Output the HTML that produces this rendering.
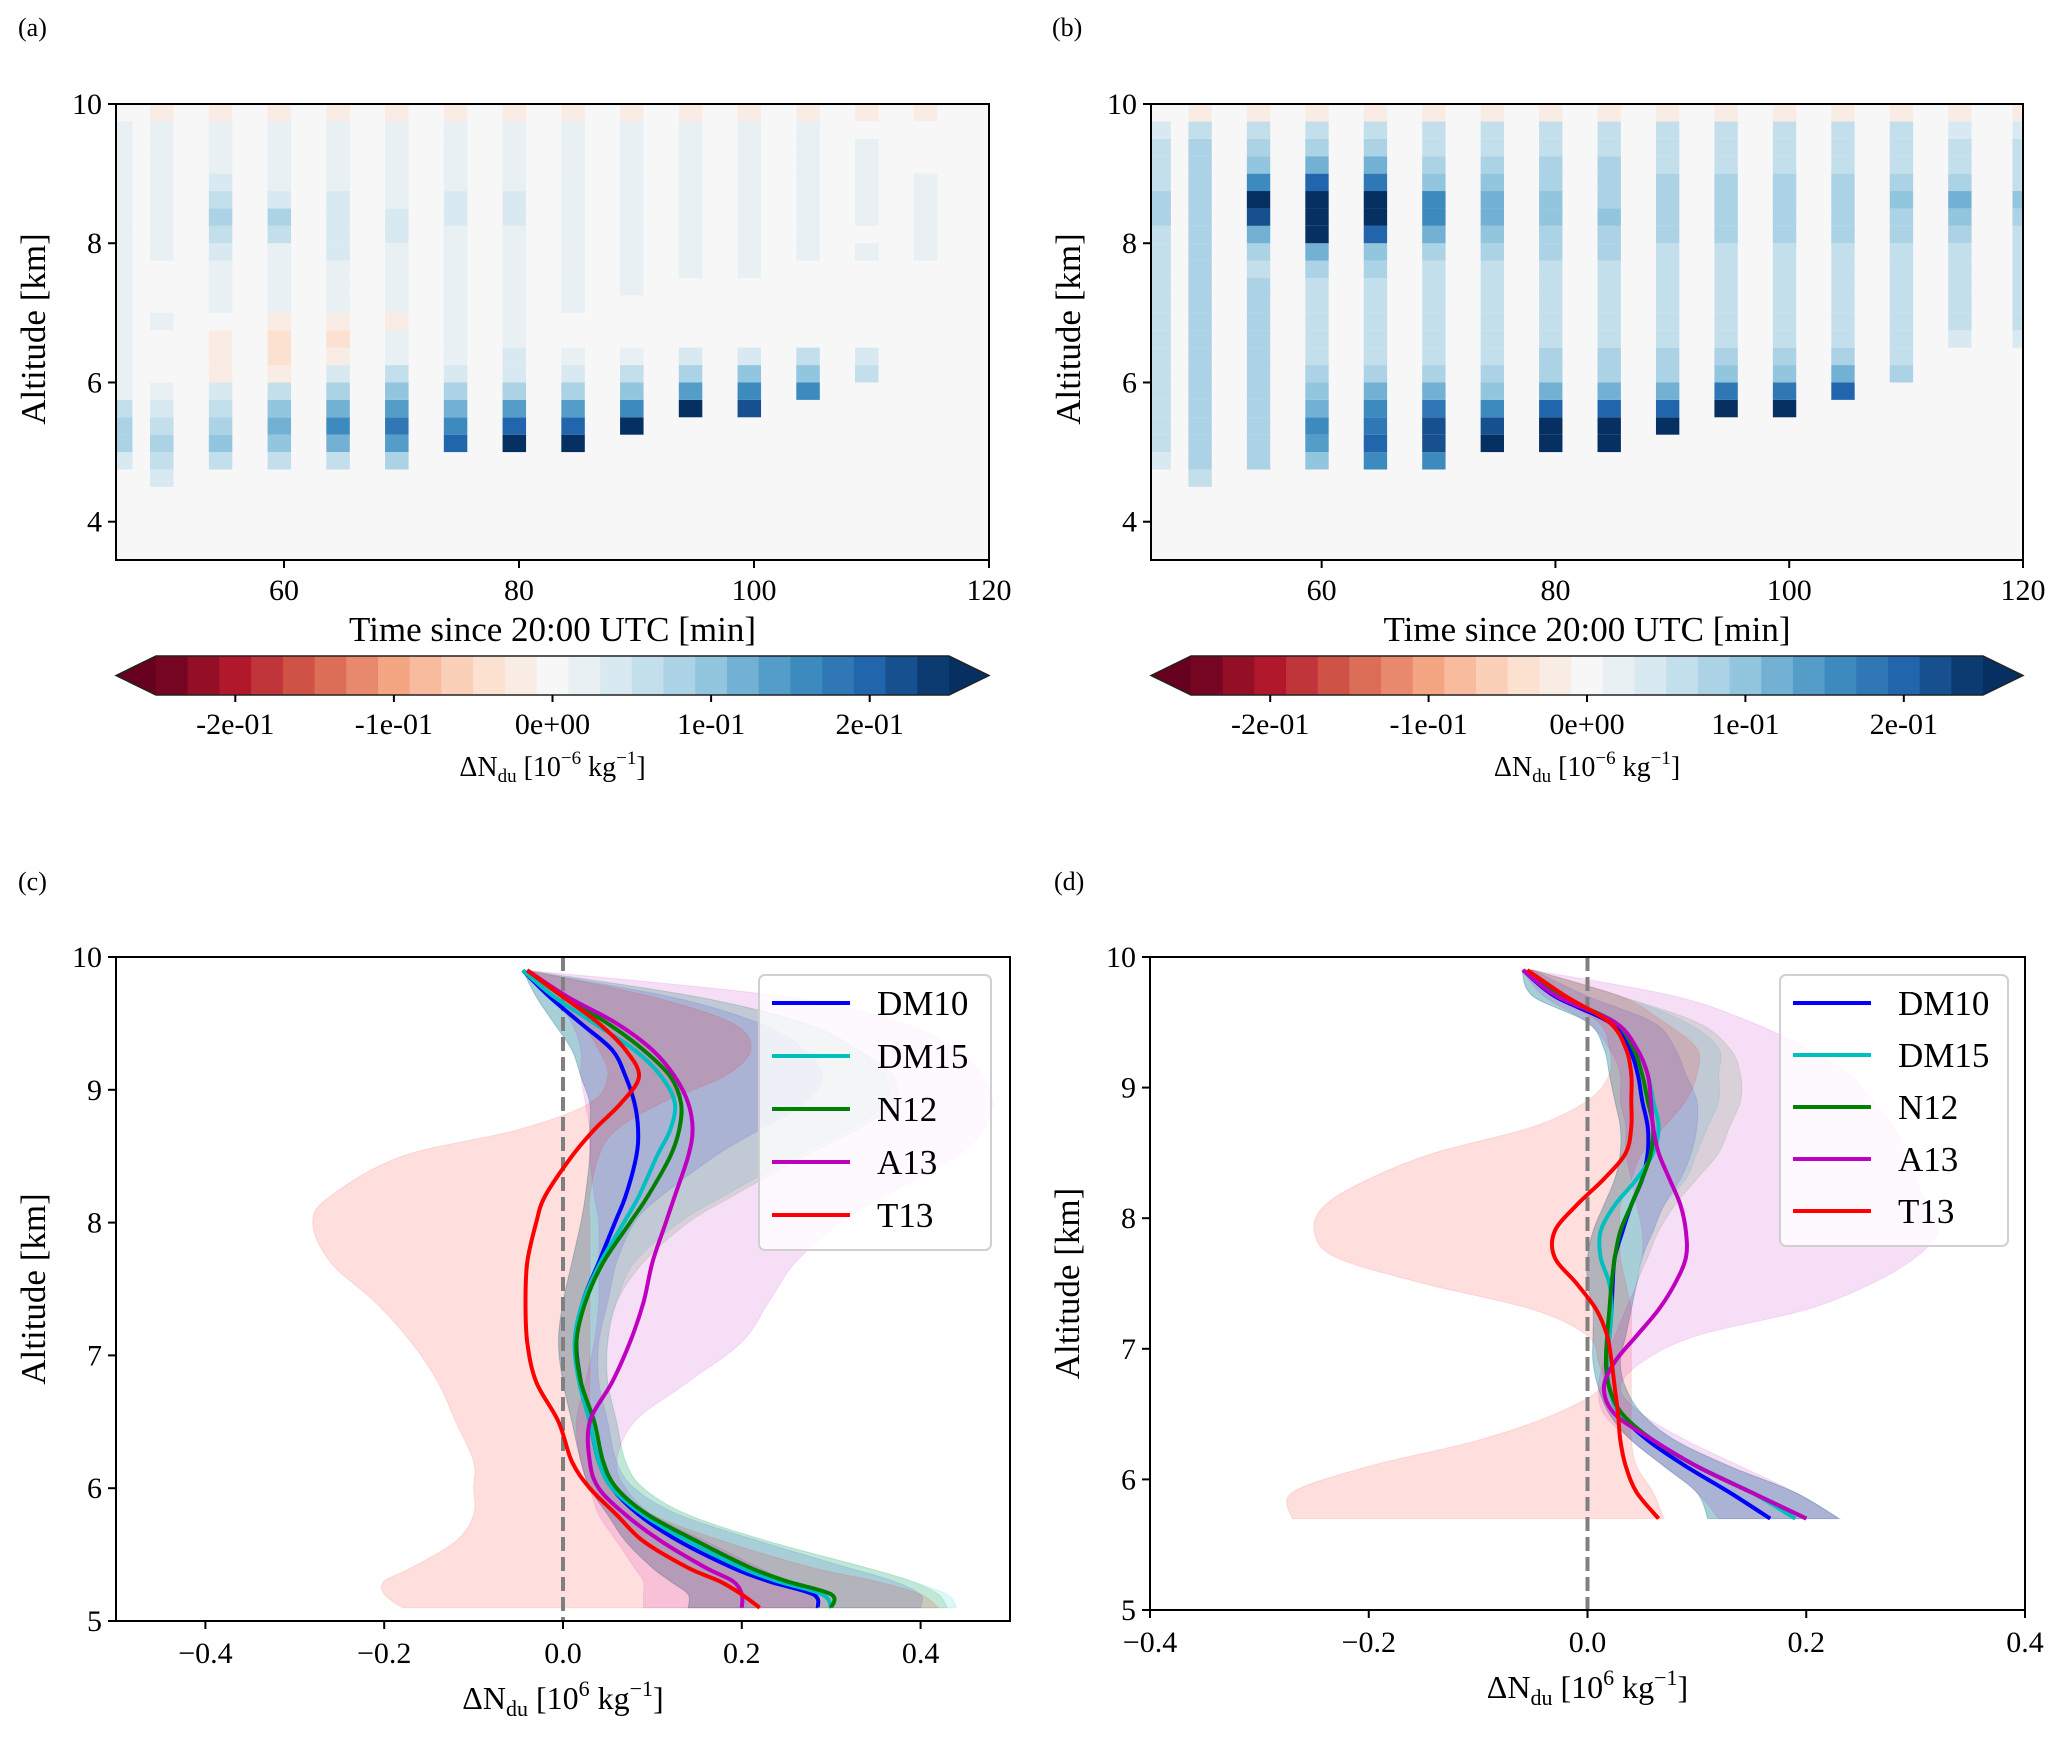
<!DOCTYPE html>
<html><head><meta charset="utf-8"><style>
html,body{margin:0;padding:0;background:#fff;}
svg text{font-family:"Liberation Serif","DejaVu Serif",serif;fill:#000;}
</style></head><body>
<svg id="fig" xmlns="http://www.w3.org/2000/svg" width="2067" height="1739" viewBox="0 0 2067 1739"></svg>
<script>
// ---------- heatmap data ----------
const hmTimes = [46.5,50,55,60,65,70,75,80,85,90,95,100,105,110,115,120.5];
const hmAltBins = [4.5,4.75,5.0,5.25,5.5,5.75,6.0,6.25,6.5,6.75,7.0,7.25,7.5,7.75,8.0,8.25,8.5,8.75,9.0,9.25,9.5,9.75];
const hmA = [
[0,0.03,0.07,0.08,0.05,0.02,0.01,0.01,0.01,0.01,0.01,0.01,0.02,0.02,0.02,0.02,0.02,0.02,0.02,0.02,0.02,0],
[0.03,0.06,0.08,0.06,0.03,0.02,0,0,0,0.01,0,0,0,0.02,0.02,0.02,0.02,0.02,0.02,0.02,0.02,-0.02],
[0,0.05,0.09,0.08,0.06,0.03,-0.02,-0.03,-0.02,0,0.02,0.02,0.02,0.03,0.06,0.08,0.05,0.03,0.02,0.02,0.02,-0.03],
[0,0.05,0.1,0.12,0.1,0.05,-0.03,-0.05,-0.04,-0.02,0.02,0.02,0.02,0.02,0.05,0.07,0.03,0.02,0.02,0.02,0.02,-0.03],
[0,0.05,0.12,0.15,0.12,0.07,0.03,-0.03,-0.04,-0.03,0.02,0.02,0.02,0.03,0.04,0.04,0.03,0.02,0.02,0.02,0.02,-0.03],
[0,0.08,0.14,0.17,0.14,0.1,0.05,0.02,0.02,-0.02,0.02,0.02,0.02,0.02,0.03,0.03,0.02,0.02,0.02,0.02,0.02,-0.03],
[0,0,0.2,0.15,0.12,0.08,0.04,0.02,0.02,0.02,0.02,0.02,0.02,0.02,0.02,0.03,0.03,0.02,0.02,0.02,0.02,-0.03],
[0,0,0.3,0.2,0.14,0.08,0.04,0.03,0.02,0.02,0.02,0.02,0.02,0.02,0.02,0.03,0.03,0.02,0.02,0.02,0.02,-0.03],
[0,0,0.25,0.2,0.13,0.08,0.04,0.02,0,0,0.02,0.02,0.02,0.02,0.02,0.02,0.02,0.02,0.02,0.02,0.02,-0.03],
[0,0,0,0.3,0.16,0.1,0.05,0.02,0,0,0,0.02,0.02,0.02,0.02,0.02,0.02,0.02,0.02,0.02,0.02,-0.03],
[0,0,0,0,0.25,0.14,0.08,0.03,0,0,0,0,0.02,0.02,0.02,0.02,0.02,0.02,0.02,0.02,0.02,-0.03],
[0,0,0,0,0.22,0.15,0.09,0.04,0,0,0,0,0.02,0.02,0.02,0.02,0.02,0.02,0.02,0.02,0.02,-0.03],
[0,0,0,0,0,0.16,0.1,0.05,0,0,0,0,0,0.02,0.02,0.02,0.02,0.02,0.02,0.02,0.02,-0.03],
[0,0,0,0,0,0,0.06,0.03,0,0,0,0,0,0.01,0,0.01,0.01,0.01,0.01,0.01,0,-0.03],
[0,0,0,0,0,0,0,0,0,0,0,0,0,0.01,0.01,0.01,0.01,0.02,0,0,0,-0.03],
[0,0,0,0,0,0,0,0,0,0,0,0,0,0,0,0,0,0,0,0,0,0]];
const hmB = [
[0,0.04,0.06,0.06,0.06,0.06,0.06,0.06,0.06,0.06,0.06,0.06,0.06,0.06,0.06,0.08,0.08,0.06,0.06,0.06,0.03,0],
[0.06,0.07,0.07,0.07,0.07,0.07,0.07,0.07,0.07,0.07,0.07,0.07,0.07,0.07,0.07,0.07,0.07,0.07,0.07,0.07,0.06,-0.02],
[0,0.07,0.08,0.08,0.07,0.07,0.07,0.07,0.07,0.07,0.07,0.07,0.06,0.08,0.12,0.22,0.25,0.15,0.1,0.07,0.06,-0.03],
[0,0.1,0.14,0.16,0.12,0.1,0.07,0.06,0.06,0.06,0.06,0.06,0.08,0.12,0.25,0.3,0.3,0.2,0.12,0.08,0.06,-0.03],
[0,0.15,0.2,0.18,0.16,0.12,0.08,0.06,0.06,0.06,0.06,0.06,0.07,0.1,0.2,0.26,0.28,0.18,0.12,0.08,0.06,-0.03],
[0,0.16,0.22,0.22,0.18,0.12,0.08,0.06,0.06,0.06,0.06,0.06,0.06,0.08,0.12,0.16,0.15,0.1,0.08,0.06,0.06,-0.03],
[0,0,0.25,0.22,0.15,0.1,0.07,0.06,0.06,0.06,0.06,0.06,0.06,0.07,0.1,0.12,0.12,0.1,0.07,0.06,0.06,-0.03],
[0,0,0.3,0.3,0.2,0.12,0.08,0.07,0.06,0.06,0.06,0.06,0.06,0.07,0.08,0.1,0.1,0.08,0.07,0.06,0.06,-0.03],
[0,0,0.3,0.3,0.2,0.12,0.08,0.07,0.06,0.06,0.06,0.06,0.06,0.07,0.08,0.09,0.08,0.08,0.07,0.06,0.06,-0.03],
[0,0,0,0.3,0.2,0.12,0.08,0.07,0.06,0.06,0.06,0.06,0.06,0.06,0.07,0.08,0.08,0.07,0.06,0.06,0.06,-0.03],
[0,0,0,0,0.3,0.18,0.1,0.07,0.06,0.06,0.06,0.06,0.06,0.06,0.07,0.08,0.08,0.07,0.06,0.06,0.06,-0.03],
[0,0,0,0,0.28,0.18,0.1,0.07,0.06,0.06,0.06,0.06,0.06,0.06,0.07,0.08,0.08,0.07,0.06,0.06,0.06,-0.03],
[0,0,0,0,0,0.2,0.12,0.08,0.06,0.06,0.06,0.06,0.06,0.06,0.07,0.08,0.08,0.07,0.06,0.06,0.06,-0.03],
[0,0,0,0,0,0,0.08,0.06,0.06,0.06,0.06,0.06,0.06,0.06,0.07,0.08,0.1,0.08,0.06,0.06,0.06,-0.03],
[0,0,0,0,0,0,0,0,0.04,0.05,0.06,0.06,0.06,0.06,0.07,0.1,0.12,0.08,0.06,0.05,0.04,-0.03],
[0,0,0,0,0,0,0,0,0.04,0.05,0.05,0.05,0.05,0.05,0.06,0.08,0.1,0.06,0.05,0.05,0.04,-0.02]];
const hmXTicks = [60,80,100,120];
const hmYTicks = [4,6,8,10];
const cbTicks = [-0.2,-0.1,0,0.1,0.2];
const cbTickLabels = ["-2e-01","-1e-01","0e+00","1e-01","2e-01"];

// ---------- profile data ----------
const seriesNames = ["DM10","DM15","N12","A13","T13"];
const seriesColors = ["#0000ff","#00bfbf","#008000","#bf00bf","#ff0000"];
const altC = [9.9,9.7,9.5,9.3,9.1,8.9,8.7,8.5,8.2,8.0,7.7,7.4,7.1,6.8,6.5,6.2,6.0,5.8,5.6,5.4,5.3,5.2,5.1];
const cDM10 = [-0.045,-0.015,0.02,0.055,0.07,0.08,0.084,0.082,0.07,0.058,0.04,0.022,0.015,0.02,0.03,0.04,0.055,0.085,0.13,0.19,0.23,0.28,0.285];
const cDM15 = [-0.045,-0.01,0.035,0.08,0.11,0.125,0.12,0.105,0.085,0.068,0.042,0.022,0.013,0.018,0.03,0.04,0.055,0.09,0.14,0.2,0.24,0.29,0.3];
const cN12 = [-0.04,0.0,0.05,0.09,0.12,0.132,0.13,0.12,0.095,0.075,0.045,0.025,0.015,0.02,0.035,0.045,0.06,0.095,0.15,0.21,0.25,0.3,0.3];
const cA13 = [-0.04,0.005,0.06,0.1,0.125,0.14,0.145,0.14,0.125,0.115,0.1,0.09,0.075,0.055,0.03,0.03,0.04,0.07,0.11,0.16,0.19,0.2,0.2];
const cT13 = [-0.04,0.0,0.04,0.07,0.085,0.065,0.035,0.01,-0.02,-0.03,-0.04,-0.042,-0.04,-0.03,-0.005,0.01,0.03,0.06,0.09,0.14,0.175,0.2,0.22];
const cLoDM = [-0.045,-0.03,-0.01,0.01,0.02,0.03,0.03,0.03,0.025,0.02,0.01,0.0,-0.005,0.0,0.01,0.02,0.03,0.05,0.07,0.1,0.12,0.14,0.14];
const cHiDM10 = [-0.045,0.12,0.22,0.27,0.29,0.27,0.22,0.17,0.11,0.08,0.06,0.05,0.04,0.04,0.05,0.06,0.08,0.13,0.22,0.32,0.37,0.4,0.4];
const cHiDM15 = [-0.045,0.15,0.27,0.33,0.36,0.36,0.32,0.26,0.18,0.13,0.08,0.06,0.05,0.05,0.06,0.07,0.09,0.14,0.23,0.34,0.39,0.43,0.44];
const cHiN12 = [-0.04,0.15,0.27,0.33,0.37,0.37,0.33,0.27,0.19,0.14,0.09,0.06,0.05,0.05,0.06,0.07,0.09,0.14,0.23,0.34,0.39,0.42,0.43];
const cLoA13 = [-0.04,-0.01,0.01,0.02,0.02,0.025,0.03,0.03,0.035,0.04,0.04,0.04,0.035,0.025,0.015,0.02,0.03,0.04,0.06,0.08,0.09,0.09,0.09];
const cHiA13 = [-0.04,0.25,0.38,0.44,0.47,0.48,0.47,0.44,0.36,0.31,0.26,0.23,0.2,0.14,0.08,0.06,0.07,0.1,0.16,0.22,0.25,0.28,0.28];
const cLoT13 = [-0.04,-0.01,0.02,0.04,0.05,0.03,-0.05,-0.18,-0.26,-0.28,-0.26,-0.21,-0.17,-0.14,-0.12,-0.1,-0.1,-0.1,-0.12,-0.17,-0.2,-0.2,-0.18];
const cHiT13 = [-0.04,0.1,0.19,0.21,0.18,0.11,0.06,0.04,0.03,0.03,0.03,0.03,0.03,0.03,0.03,0.04,0.06,0.1,0.18,0.28,0.35,0.4,0.42];

const altD = [9.9,9.7,9.5,9.3,9.1,8.9,8.7,8.5,8.3,8.1,7.9,7.7,7.5,7.3,7.1,6.9,6.7,6.5,6.3,6.1,5.9,5.7];
const dDM10 = [-0.059,-0.03,0.02,0.038,0.046,0.05,0.055,0.055,0.05,0.04,0.032,0.025,0.023,0.022,0.02,0.017,0.02,0.03,0.055,0.09,0.13,0.167];
const dDM15 = [-0.059,-0.025,0.025,0.045,0.055,0.06,0.065,0.06,0.045,0.025,0.012,0.012,0.02,0.022,0.02,0.018,0.02,0.03,0.06,0.1,0.15,0.19];
const dN12 = [-0.059,-0.025,0.025,0.042,0.05,0.055,0.06,0.058,0.05,0.04,0.03,0.025,0.022,0.02,0.018,0.017,0.02,0.032,0.06,0.1,0.15,0.2];
const dA13 = [-0.059,-0.028,0.025,0.045,0.055,0.058,0.06,0.065,0.075,0.085,0.09,0.09,0.08,0.065,0.045,0.025,0.015,0.025,0.06,0.1,0.15,0.2];
const dT13 = [-0.055,-0.02,0.02,0.035,0.04,0.04,0.04,0.035,0.015,-0.01,-0.03,-0.03,-0.01,0.008,0.018,0.022,0.025,0.028,0.03,0.035,0.045,0.065];
const dLoDM = [-0.06,-0.05,0.0,0.015,0.02,0.025,0.03,0.03,0.025,0.015,0.005,0.0,0.0,0.005,0.005,0.005,0.01,0.02,0.04,0.07,0.1,0.11];
const dHiDM10 = [-0.05,0.0,0.06,0.08,0.09,0.1,0.1,0.095,0.085,0.07,0.06,0.05,0.045,0.04,0.035,0.03,0.035,0.05,0.08,0.13,0.19,0.23];
const dHiDM15 = [-0.05,0.03,0.09,0.12,0.12,0.12,0.11,0.1,0.09,0.07,0.06,0.05,0.045,0.04,0.035,0.03,0.035,0.05,0.08,0.13,0.19,0.23];
const dHiN12 = [-0.05,0.03,0.1,0.13,0.14,0.14,0.13,0.12,0.1,0.08,0.065,0.055,0.045,0.04,0.035,0.03,0.035,0.05,0.08,0.13,0.19,0.23];
const dLoA13 = [-0.06,-0.04,0.0,0.02,0.03,0.03,0.035,0.035,0.04,0.045,0.05,0.05,0.045,0.035,0.025,0.015,0.01,0.015,0.04,0.07,0.1,0.12];
const dHiA13 = [-0.05,0.08,0.15,0.2,0.24,0.26,0.28,0.29,0.3,0.31,0.32,0.3,0.26,0.2,0.1,0.05,0.03,0.05,0.09,0.14,0.19,0.23];
const dLoT13 = [-0.055,-0.03,0.01,0.02,0.02,0.0,-0.05,-0.14,-0.2,-0.24,-0.25,-0.23,-0.15,-0.05,0.0,0.01,0.012,-0.03,-0.1,-0.2,-0.27,-0.27];
const dHiT13 = [-0.05,0.03,0.07,0.1,0.1,0.09,0.07,0.05,0.04,0.03,0.03,0.03,0.035,0.04,0.04,0.04,0.04,0.04,0.04,0.045,0.06,0.07];
const cXTicks = [-0.4,-0.2,0.0,0.2,0.4];
const dXTicks = [-0.4,-0.2,0.0,0.2,0.4];
const profYTicks = [5,6,7,8,9,10];

// ---------- helpers ----------
const NS="http://www.w3.org/2000/svg";
const svg=document.getElementById('fig');
function mk(tag,attrs,parent){const e=document.createElementNS(NS,tag);for(const k in attrs)e.setAttribute(k,attrs[k]);(parent||svg).appendChild(e);return e;}
function txt(s,x,y,size,anchor,parent){const t=mk('text',{x:x,y:y,'font-size':size,'text-anchor':anchor||'middle'},parent);t.textContent=s;return t;}
const anchors=["#67001f","#b2182b","#d6604d","#f4a582","#fddbc7","#f7f7f7","#d1e5f0","#92c5de","#4393c3","#2166ac","#053061"];
function hex(c){return [parseInt(c.substr(1,2),16),parseInt(c.substr(3,2),16),parseInt(c.substr(5,2),16)];}
function cmap(f){f=Math.max(0,Math.min(1,f));const p=f*10,i=Math.min(9,Math.floor(p)),r=p-i;const a=hex(anchors[i]),b=hex(anchors[i+1]);return 'rgb('+a.map((v,k)=>Math.round(v+(b[k]-v)*r)).join(',')+')';}
function binColor(v){let b=Math.floor((v+0.25)/0.02+1e-9);if(b<0)return '#67001f';if(b>24)return '#053061';return cmap((b+0.5)/25);}
function fmt(v){return (v<0?'\u2212':'')+Math.abs(v).toFixed(1);}

function heatPanel(name,data,L,R,T,B,x0,x1,y0,y1){
  const g=mk('g',{});
  
  
  const sx=v=>L+(v-x0)/(x1-x0)*(R-L), sy=v=>B-(v-y0)/(y1-y0)*(B-T);
  mk('rect',{x:L,y:T,width:R-L,height:B-T,fill:binColor(0)},g);
  const clip='clip'+name; const cp=mk('clipPath',{id:clip},g); mk('rect',{x:L,y:T,width:R-L,height:B-T},cp);
  const cg=mk('g',{'clip-path':'url(#'+clip+')'},g);
  hmTimes.forEach((t,i)=>{
    hmAltBins.forEach((a,j)=>{
      const v=data[i][j]; if(Math.abs(v)<0.01) return;
      const xa=sx(t-1.4), xb=sx(t+0.6);
      const r=mk('rect',{x:xa,y:sy(a+0.25),width:xb-xa,height:sy(a)-sy(a+0.25),fill:binColor(v)},cg);
      
      
    });
  });
  mk('rect',{x:L,y:T,width:R-L,height:B-T,fill:'none',stroke:'#000','stroke-width':2},g);
  hmXTicks.forEach(v=>{const x=sx(v);mk('line',{x1:x,x2:x,y1:B,y2:B+8,stroke:'#000','stroke-width':2},g);
    const t=txt(String(v),x,B+40,30,'middle',g);});
  hmYTicks.forEach(v=>{const y=sy(v);mk('line',{x1:L-8,x2:L,y1:y,y2:y,stroke:'#000','stroke-width':2},g);
    const t=txt(String(v),L-14,y+10,30,'end',g);});
  const xl=txt('Time since 20:00 UTC [min]',(L+R)/2,B+81,35,'middle',g);
  
  const yl=txt('Altitude [km]',0,0,35,'middle',g);yl.setAttribute('transform','translate('+(L-71)+','+((T+B)/2-3)+') rotate(-90)');
  
  const cb=mk('g',{},g);
  
  
  const ct=656,cbb=695,cl=L+40,cr=R-40;
  const cx=v=>cl+(v+0.25)/0.5*(cr-cl);
  for(let k=0;k<25;k++){const v=-0.25+k*0.02+0.01;mk('rect',{x:cx(-0.25+k*0.02),y:ct,width:(cr-cl)/25+0.5,height:cbb-ct,fill:binColor(v)},cb);}
  mk('polygon',{points:cl+','+ct+' '+L+','+((ct+cbb)/2)+' '+cl+','+cbb,fill:'#67001f'},cb);
  mk('polygon',{points:cr+','+ct+' '+R+','+((ct+cbb)/2)+' '+cr+','+cbb,fill:'#053061'},cb);
  mk('polygon',{points:L+','+((ct+cbb)/2)+' '+cl+','+ct+' '+cr+','+ct+' '+R+','+((ct+cbb)/2)+' '+cr+','+cbb+' '+cl+','+cbb,fill:'none',stroke:'#222','stroke-width':1.5},cb);
  cbTicks.forEach((v,i)=>{const x=cx(v);mk('line',{x1:x,x2:x,y1:cbb,y2:cbb+7,stroke:'#000','stroke-width':2},cb);
    const t=txt(cbTickLabels[i],x,cbb+39,30,'middle',cb);});
  const lab=mk('text',{x:(L+R)/2,y:776,'font-size':28,'text-anchor':'middle'},cb);
  
  lab.innerHTML='\u0394N<tspan font-size="19" dy="6">du</tspan><tspan dy="-6"> [10</tspan><tspan font-size="19" dy="-12">\u22126</tspan><tspan dy="12"> kg</tspan><tspan font-size="19" dy="-12">\u22121</tspan><tspan dy="12">]</tspan>';
}

function smoothPath(pts){
  let d='M'+pts[0][0].toFixed(1)+','+pts[0][1].toFixed(1);
  for(let i=0;i<pts.length-1;i++){
    const p0=pts[Math.max(0,i-1)],p1=pts[i],p2=pts[i+1],p3=pts[Math.min(pts.length-1,i+2)];
    const c1=[p1[0]+(p2[0]-p0[0])/6,p1[1]+(p2[1]-p0[1])/6],c2=[p2[0]-(p3[0]-p1[0])/6,p2[1]-(p3[1]-p1[1])/6];
    d+=' C'+c1[0].toFixed(1)+','+c1[1].toFixed(1)+' '+c2[0].toFixed(1)+','+c2[1].toFixed(1)+' '+p2[0].toFixed(1)+','+p2[1].toFixed(1);
  }
  return d;
}

function profPanel(name,alts,lines,los,his,L,R,T,B,x0,x1,xticks,leg){
  const g=mk('g',{});
  
  
  const sx=v=>L+(v-x0)/(x1-x0)*(R-L), sy=v=>B-(v-5)/5*(B-T);
  [0,1,2,3,4].forEach(i=>{
    const up=alts.map((a,k)=>[sx(his[i][k]),sy(a)]), lo=alts.map((a,k)=>[sx(los[i][k]),sy(a)]).reverse();
    const d=smoothPath(up)+' L'+smoothPath(lo).substring(1)+' Z';
    const p=mk('path',{d:d,fill:seriesColors[i],'fill-opacity':0.13,stroke:seriesColors[i],'stroke-opacity':0.1},g);
    
    
  });
  const z=sx(0);
  const zl=mk('line',{x1:z,x2:z,y1:T,y2:B,stroke:'#808080','stroke-width':4,'stroke-dasharray':'14,6'},g);
  
  [0,1,2,3,4].forEach(i=>{
    const pts=alts.map((a,k)=>[sx(lines[i][k]),sy(a)]);
    const p=mk('path',{d:smoothPath(pts),fill:'none',stroke:seriesColors[i],'stroke-width':4},g);
    
    
  });
  mk('rect',{x:L,y:T,width:R-L,height:B-T,fill:'none',stroke:'#000','stroke-width':2},g);
  xticks.forEach(v=>{const x=sx(v);mk('line',{x1:x,x2:x,y1:B,y2:B+8,stroke:'#000','stroke-width':2},g);
    const t=txt(fmt(v),x,B+42,30,'middle',g);});
  profYTicks.forEach(v=>{const y=sy(v);mk('line',{x1:L-8,x2:L,y1:y,y2:y,stroke:'#000','stroke-width':2},g);
    const t=txt(String(v),L-14,y+10,30,'end',g);});
  const yl=txt('Altitude [km]',0,0,35,'middle',g);yl.setAttribute('transform','translate('+(L-71)+','+((T+B)/2)+') rotate(-90)');
  
  const xl=mk('text',{x:(L+R)/2,y:B+88,'font-size':32,'text-anchor':'middle'},g);
  
  xl.innerHTML='\u0394N<tspan font-size="22" dy="7">du</tspan><tspan dy="-7"> [10</tspan><tspan font-size="22" dy="-13">6</tspan><tspan dy="13"> kg</tspan><tspan font-size="22" dy="-13">\u22121</tspan><tspan dy="13">]</tspan>';
  const lg=mk('g',{},g);
  
  
  mk('rect',{x:leg.x,y:leg.y,width:leg.w,height:leg.h,rx:6,fill:'#fff','fill-opacity':0.8,stroke:'#d0d0d0','stroke-width':2},lg);
  seriesNames.forEach((n,i)=>{
    const y=leg.y+28+i*leg.dy;
    const e=mk('g',{},lg);
    
    
    mk('line',{x1:leg.x+13,x2:leg.x+91,y1:y,y2:y,stroke:seriesColors[i],'stroke-width':4},e);
    txt(n,leg.x+118,y+12,35,'start',e);
  });
}

heatPanel('heatmap-a',hmA,116,989,104,560,45.7,120,3.45,10);
heatPanel('heatmap-b',hmB,1151,2023,104,560,45.4,120,3.45,10);
profPanel('profile-c',altC,[cDM10,cDM15,cN12,cA13,cT13],[cLoDM,cLoDM,cLoDM,cLoA13,cLoT13],[cHiDM10,cHiDM15,cHiN12,cHiA13,cHiT13],
  116,1010,957,1621,-0.5,0.5,cXTicks,{x:759,y:975,w:232,h:275,dy:53});
profPanel('profile-d',altD,[dDM10,dDM15,dN12,dA13,dT13],[dLoDM,dLoDM,dLoDM,dLoA13,dLoT13],[dHiDM10,dHiDM15,dHiN12,dHiA13,dHiT13],
  1150,2025,957,1610,-0.4,0.4,dXTicks,{x:1780,y:975,w:228,h:271,dy:52});

[['(a)',18,36],['(b)',1052,36],['(c)',18,890],['(d)',1054,890]].forEach(p=>{
  const t=txt(p[0],p[1],p[2],26,'start');
  
  
});
</script>
</body></html>
